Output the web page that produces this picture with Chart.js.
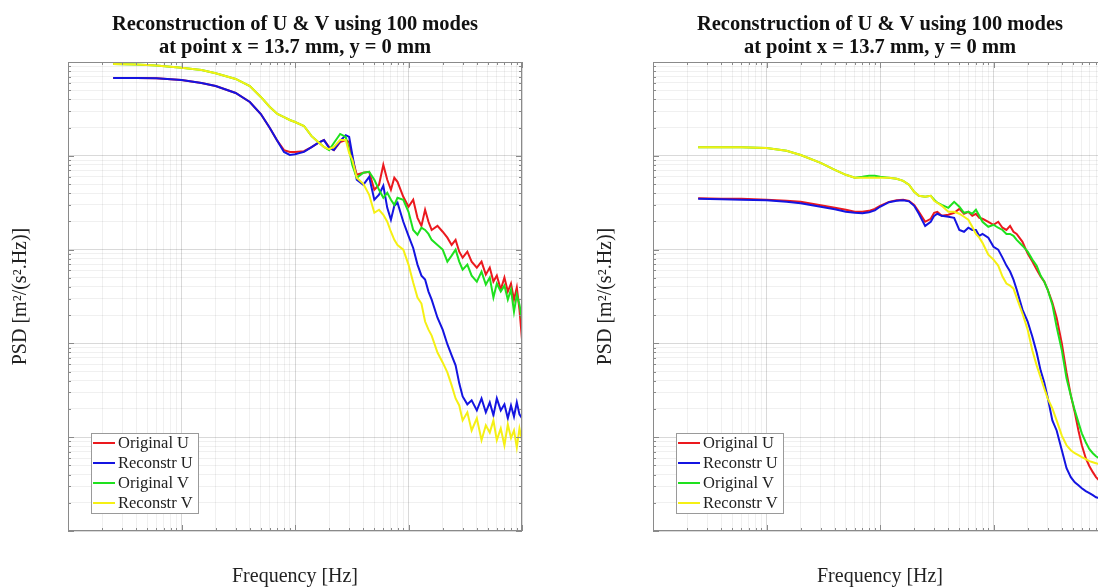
<!DOCTYPE html>
<html>
<head>
<meta charset="utf-8">
<script src="https://cdn.jsdelivr.net/npm/chart.js@4.4.1/dist/chart.umd.min.js"></script>
<style>
html, body { margin: 0; padding: 0; background: #fff; overflow: hidden; }
#wrap { position: relative; width: 1098px; height: 587px; overflow: hidden; }
.box { position: absolute; top: 0; width: 585px; height: 587px; }
</style>
</head>
<body>
<div id="wrap">
  <div class="box" style="left:0"><canvas id="psdLeft" width="585" height="587"></canvas></div>
  <div class="box" style="left:585px"><canvas id="psdRight" width="585" height="587"></canvas></div>
</div>
<script>
// frequency grid (Hz), shared by both panels
const freq = [2.5, 4, 6, 10, 15, 20, 30, 40, 50, 60,
  70, 80, 90, 100, 120, 140, 160, 180, 200, 220,
  250, 280, 300, 320, 350, 400, 450, 500, 550, 600,
  650, 700, 750, 800, 900, 1000, 1100, 1200, 1300, 1400,
  1500, 1600, 1800, 2000, 2200, 2400, 2600, 2800, 3000, 3300,
  3600, 4000, 4400, 4800, 5200, 5600, 6000, 6500, 7000, 7500,
  8000, 8500, 9000, 9500, 10000];

// left panel
const leftOrigU = [6.75e-4, 6.75e-4, 6.7e-4, 6.43e-4, 5.97e-4, 5.55e-4, 4.67e-4, 3.75e-4, 2.79e-4, 1.98e-4,
  1.44e-4, 1.15e-4, 1.10e-4, 1.10e-4, 1.12e-4, 1.24e-4, 1.37e-4, 1.47e-4, 1.24e-4, 1.15e-4,
  1.40e-4, 1.47e-4, 1.40e-4, 9.5e-5, 6.27e-5, 6.59e-5, 6.75e-5, 4.34e-5, 4.91e-5, 8.0e-5,
  5.55e-5, 4.34e-5, 5.83e-5, 5.28e-5, 3.66e-5, 2.86e-5, 3.40e-5, 2.18e-5, 1.79e-5, 2.66e-5,
  1.98e-5, 1.62e-5, 1.79e-5, 1.55e-5, 1.34e-5, 1.12e-5, 1.27e-5, 9.5e-6, 8.2e-6, 9.5e-6,
  7.45e-6, 6.43e-6, 7.45e-6, 5.41e-6, 6.43e-6, 4.56e-6, 5.28e-6, 3.75e-6, 5.03e-6, 3.57e-6,
  4.34e-6, 2.93e-6, 3.94e-6, 2.29e-6, 1.10e-6];
const leftReconU = [6.75e-4, 6.75e-4, 6.7e-4, 6.43e-4, 5.97e-4, 5.55e-4, 4.67e-4, 3.75e-4, 2.79e-4, 1.98e-4,
  1.44e-4, 1.10e-4, 1.02e-4, 1.04e-4, 1.10e-4, 1.24e-4, 1.37e-4, 1.47e-4, 1.21e-4, 1.15e-4,
  1.44e-4, 1.66e-4, 1.59e-4, 1.02e-4, 5.55e-5, 4.91e-5, 5.97e-5, 3.40e-5, 3.84e-5, 4.79e-5,
  2.79e-5, 2.08e-5, 2.93e-5, 3.16e-5, 1.98e-5, 1.40e-5, 1.04e-5, 6.92e-6, 5.28e-6, 4.79e-6,
  3.57e-6, 2.93e-6, 1.88e-6, 1.40e-6, 9.8e-7, 7.45e-7, 5.83e-7, 3.75e-7, 2.72e-7, 2.24e-7,
  2.47e-7, 1.93e-7, 2.59e-7, 1.84e-7, 2.35e-7, 1.71e-7, 2.59e-7, 1.93e-7, 2.24e-7, 1.59e-7,
  2.18e-7, 1.66e-7, 2.35e-7, 1.75e-7, 1.59e-7];
const leftOrigV = [9.5e-4, 9.4e-4, 9.2e-4, 8.7e-4, 8.2e-4, 7.6e-4, 6.6e-4, 5.55e-4, 4.24e-4, 3.31e-4,
  2.79e-4, 2.59e-4, 2.41e-4, 2.29e-4, 2.08e-4, 1.62e-4, 1.40e-4, 1.24e-4, 1.15e-4, 1.37e-4,
  1.71e-4, 1.59e-4, 1.15e-4, 8.0e-5, 5.83e-5, 6.59e-5, 6.75e-5, 5.55e-5, 4.34e-5, 3.57e-5,
  4.03e-5, 3.40e-5, 3.00e-5, 3.57e-5, 3.40e-5, 2.53e-5, 1.62e-5, 1.44e-5, 1.71e-5, 1.62e-5,
  1.47e-5, 1.27e-5, 1.12e-5, 1.0e-5, 7.45e-6, 8.63e-6, 1.0e-5, 7.45e-6, 6.12e-6, 6.92e-6,
  5.28e-6, 4.56e-6, 5.83e-6, 4.24e-6, 5.03e-6, 3.08e-6, 4.34e-6, 3.57e-6, 4.13e-6, 2.93e-6,
  3.75e-6, 2.18e-6, 3.31e-6, 2.59e-6, 1.79e-6];
const leftReconV = [9.5e-4, 9.4e-4, 9.2e-4, 8.7e-4, 8.2e-4, 7.6e-4, 6.6e-4, 5.55e-4, 4.24e-4, 3.31e-4,
  2.79e-4, 2.59e-4, 2.41e-4, 2.29e-4, 2.08e-4, 1.62e-4, 1.40e-4, 1.24e-4, 1.18e-4, 1.24e-4,
  1.47e-4, 1.47e-4, 1.07e-4, 9.06e-5, 5.83e-5, 5.03e-5, 3.84e-5, 2.47e-5, 2.66e-5, 2.35e-5,
  1.98e-5, 1.55e-5, 1.27e-5, 1.12e-5, 1.0e-5, 6.92e-6, 4.45e-6, 3.08e-6, 2.66e-6, 1.71e-6,
  1.40e-6, 1.21e-6, 8.0e-7, 6.27e-7, 4.91e-7, 3.57e-7, 2.59e-7, 2.18e-7, 1.51e-7, 1.84e-7,
  1.18e-7, 1.59e-7, 9.3e-8, 1.34e-7, 1.12e-7, 1.51e-7, 9.3e-8, 1.24e-7, 8.2e-8, 1.37e-7,
  9.8e-8, 1.18e-7, 7.8e-8, 1.24e-7, 9.3e-8];

// right panel
const rightOrigU = [3.53e-5, 3.48e-5, 3.48e-5, 3.40e-5, 3.31e-5, 3.23e-5, 2.97e-5, 2.79e-5, 2.66e-5, 2.53e-5,
  2.53e-5, 2.59e-5, 2.72e-5, 2.93e-5, 3.23e-5, 3.36e-5, 3.40e-5, 3.31e-5, 3.00e-5, 2.53e-5,
  1.98e-5, 2.13e-5, 2.47e-5, 2.53e-5, 2.29e-5, 2.35e-5, 2.47e-5, 2.72e-5, 2.41e-5, 2.53e-5,
  2.29e-5, 2.41e-5, 2.18e-5, 2.13e-5, 1.98e-5, 1.84e-5, 1.98e-5, 1.71e-5, 1.62e-5, 1.79e-5,
  1.55e-5, 1.47e-5, 1.21e-5, 9.06e-6, 7.45e-6, 6.12e-6, 5.16e-6, 4.56e-6, 3.75e-6, 2.72e-6,
  1.88e-6, 1.0e-6, 4.91e-7, 2.79e-7, 1.84e-7, 1.18e-7, 8.2e-8, 5.97e-8, 4.91e-8, 4.24e-8,
  3.75e-8, 3.48e-8, 3.31e-8, 3.16e-8, 3.08e-8];
const rightReconU = [3.48e-5, 3.44e-5, 3.40e-5, 3.36e-5, 3.23e-5, 3.12e-5, 2.86e-5, 2.69e-5, 2.53e-5, 2.47e-5,
  2.44e-5, 2.50e-5, 2.62e-5, 2.86e-5, 3.20e-5, 3.31e-5, 3.36e-5, 3.27e-5, 2.93e-5, 2.41e-5,
  1.79e-5, 1.98e-5, 2.29e-5, 2.41e-5, 2.29e-5, 2.24e-5, 2.18e-5, 1.62e-5, 1.55e-5, 1.71e-5,
  1.62e-5, 1.62e-5, 1.40e-5, 1.47e-5, 1.34e-5, 1.07e-5, 1.0e-5, 8.22e-6, 6.75e-6, 5.83e-6,
  4.79e-6, 3.75e-6, 2.29e-6, 1.71e-6, 1.18e-6, 8.0e-7, 5.16e-7, 3.84e-7, 2.66e-7, 1.51e-7,
  1.18e-7, 7.27e-8, 4.67e-8, 3.75e-8, 3.31e-8, 3.08e-8, 2.86e-8, 2.66e-8, 2.53e-8, 2.41e-8,
  2.29e-8, 2.24e-8, 2.18e-8, 2.13e-8, 2.13e-8];
const rightOrigV = [1.23e-4, 1.23e-4, 1.23e-4, 1.21e-4, 1.13e-4, 1.02e-4, 8.42e-5, 7.09e-5, 6.27e-5, 5.83e-5,
  5.97e-5, 6.12e-5, 6.12e-5, 5.97e-5, 5.83e-5, 5.69e-5, 5.41e-5, 4.91e-5, 4.13e-5, 3.75e-5,
  3.66e-5, 3.75e-5, 3.40e-5, 3.16e-5, 3.00e-5, 2.79e-5, 3.23e-5, 2.86e-5, 2.47e-5, 2.53e-5,
  2.41e-5, 2.66e-5, 2.29e-5, 1.98e-5, 1.75e-5, 1.84e-5, 1.71e-5, 1.62e-5, 1.47e-5, 1.47e-5,
  1.40e-5, 1.27e-5, 1.10e-5, 9.5e-6, 7.82e-6, 6.75e-6, 5.28e-6, 4.56e-6, 3.75e-6, 2.59e-6,
  1.5e-6, 8.42e-7, 4.24e-7, 2.79e-7, 1.93e-7, 1.44e-7, 1.10e-7, 8.84e-8, 7.45e-8, 6.75e-8,
  6.27e-8, 5.97e-8, 5.83e-8, 5.69e-8, 5.55e-8];
const rightReconV = [1.23e-4, 1.23e-4, 1.23e-4, 1.21e-4, 1.13e-4, 1.02e-4, 8.42e-5, 7.09e-5, 6.27e-5, 5.83e-5,
  5.83e-5, 5.83e-5, 5.83e-5, 5.83e-5, 5.83e-5, 5.69e-5, 5.41e-5, 4.91e-5, 4.13e-5, 3.75e-5,
  3.66e-5, 3.75e-5, 3.31e-5, 3.16e-5, 2.93e-5, 2.53e-5, 2.53e-5, 2.41e-5, 2.24e-5, 2.08e-5,
  1.75e-5, 1.47e-5, 1.34e-5, 1.18e-5, 8.84e-6, 7.82e-6, 6.75e-6, 5.16e-6, 4.34e-6, 4.13e-6,
  3.84e-6, 3.08e-6, 2.08e-6, 1.40e-6, 8.42e-7, 5.83e-7, 4.34e-7, 3.31e-7, 2.59e-7, 2.03e-7,
  1.51e-7, 1.04e-7, 8.2e-8, 7.27e-8, 6.75e-8, 6.43e-8, 6.12e-8, 5.83e-8, 5.55e-8, 5.41e-8,
  5.28e-8, 5.16e-8, 5.03e-8, 5.03e-8, 4.91e-8];

const seriesNames = ['Original U', 'Reconstr U', 'Original V', 'Reconstr V'];
const seriesColors = ['rgb(235,25,30)', 'rgb(20,20,225)', 'rgb(30,225,30)', 'rgb(245,240,20)'];
const titleLines = ['Reconstruction of U & V using 100 modes', 'at point x = 13.7 mm, y = 0 mm'];
const xTitle = 'Frequency [Hz]';
const yTitle = 'PSD [m\u00B2/(s\u00B2.Hz)]';
const freqDecades = [1, 10, 100, 1000, 10000];
const psdDecades = [1e-8, 1e-7, 1e-6, 1e-5, 1e-4, 1e-3];

const serif = '"Liberation Serif", "Times New Roman", serif';
const boxColor = '#8a8a8a';

function isDecade(v) {
    const l = Math.log10(v);
    return Math.abs(l - Math.round(l)) < 1e-6;
}

// decades plus 2..9 in between
function logTicks(decades) {
    const out = [];
    decades.forEach((d, i) => {
        out.push({value: d});
        if (i < decades.length - 1) {
            for (let m = 2; m <= 9; m++) out.push({value: d * m});
        }
    });
    return out;
}

const axisDecor = {
    id: 'axisDecor',
    afterDatasetsDraw(chart) {
        const {ctx, chartArea: a, scales} = chart;
        ctx.save();
        ctx.strokeStyle = boxColor;
        ctx.lineWidth = 1;
        ctx.beginPath();
        scales.x.ticks.forEach(t => {
            const px = Math.round(scales.x.getPixelForValue(t.value)) + 0.5;
            const len = isDecade(t.value) ? 6 : 3;
            ctx.moveTo(px, a.bottom); ctx.lineTo(px, a.bottom - len);
            ctx.moveTo(px, a.top); ctx.lineTo(px, a.top + len);
        });
        scales.y.ticks.forEach(t => {
            const py = Math.round(scales.y.getPixelForValue(t.value)) + 0.5;
            const len = isDecade(t.value) ? 6 : 3;
            ctx.moveTo(a.left, py); ctx.lineTo(a.left + len, py);
            ctx.moveTo(a.right, py); ctx.lineTo(a.right - len, py);
        });
        ctx.stroke();
        ctx.strokeRect(a.left + 0.5, a.top + 0.5, a.right - a.left - 1, a.bottom - a.top - 1);

        // legend box, lower left inside the axes
        const lx = a.left + 23, ly = a.bottom - 98, lw = 107, lh = 80;
        ctx.fillStyle = '#fff';
        ctx.fillRect(lx, ly, lw, lh);
        ctx.strokeStyle = '#9a9a9a';
        ctx.strokeRect(lx + 0.5, ly + 0.5, lw, lh);
        ctx.font = '16.5px ' + serif;
        ctx.textBaseline = 'middle';
        ctx.textAlign = 'left';
        seriesNames.forEach((name, i) => {
            const cy = ly + 10 + i * 20;
            ctx.strokeStyle = seriesColors[i];
            ctx.lineWidth = 2;
            ctx.beginPath();
            ctx.moveTo(lx + 2, cy); ctx.lineTo(lx + 24, cy);
            ctx.stroke();
            ctx.fillStyle = '#222';
            ctx.fillText(name, lx + 27, cy + 1);
        });
        ctx.restore();
    },
    afterDraw(chart) {
        const {ctx, chartArea: a} = chart;
        const cx = (a.left + a.right) / 2;
        const cy = (a.top + a.bottom) / 2;
        ctx.save();
        ctx.fillStyle = '#111';
        ctx.textAlign = 'center';
        ctx.textBaseline = 'middle';
        ctx.font = 'bold 20.5px ' + serif;
        ctx.fillText(titleLines[0], cx, 25);
        ctx.fillText(titleLines[1], cx, 48);
        ctx.font = '20px ' + serif;
        ctx.fillStyle = '#222';
        ctx.fillText(xTitle, cx, 577);
        ctx.translate(21, cy);
        ctx.rotate(-Math.PI / 2);
        ctx.fillText(yTitle, 0, 0);
        ctx.restore();
    }
};

function gridColor(c) {
    if (!c.tick) return 'rgba(0,0,0,0)';
    return isDecade(c.tick.value) ? 'rgba(0,0,0,0.15)' : 'rgba(0,0,0,0.06)';
}

function makeChart(id, series) {
    const order = [3, 2, 1, 0]; // later series drawn on top, as in the original
    new Chart(document.getElementById(id), {
        type: 'line',
        data: {
            datasets: series.map((arr, i) => ({
                label: seriesNames[i],
                data: freq.map((f, k) => ({x: f, y: arr[k]})),
                borderColor: seriesColors[i],
                borderWidth: 2,
                pointRadius: 0,
                fill: false,
                tension: 0,
                order: order[i]
            }))
        },
        options: {
            responsive: false,
            animation: false,
            layout: {padding: {left: 68, right: 63, top: 62, bottom: 56}},
            plugins: {legend: {display: false}, title: {display: false}, tooltip: {enabled: false}},
            scales: {
                x: {
                    type: 'logarithmic',
                    min: freqDecades[0],
                    max: freqDecades[freqDecades.length - 1],
                    ticks: {display: false},
                    grid: {color: gridColor, drawTicks: false, lineWidth: 1},
                    border: {display: false},
                    afterBuildTicks: s => { s.ticks = logTicks(freqDecades); },
                    afterFit: s => { s.height = 0; }
                },
                y: {
                    type: 'logarithmic',
                    min: psdDecades[0],
                    max: psdDecades[psdDecades.length - 1],
                    ticks: {display: false},
                    grid: {color: gridColor, drawTicks: false, lineWidth: 1},
                    border: {display: false},
                    afterBuildTicks: s => { s.ticks = logTicks(psdDecades); },
                    afterFit: s => { s.width = 0; }
                }
            }
        },
        plugins: [axisDecor]
    });
}

makeChart('psdLeft', [leftOrigU, leftReconU, leftOrigV, leftReconV]);
makeChart('psdRight', [rightOrigU, rightReconU, rightOrigV, rightReconV]);
</script>
</body>
</html>
